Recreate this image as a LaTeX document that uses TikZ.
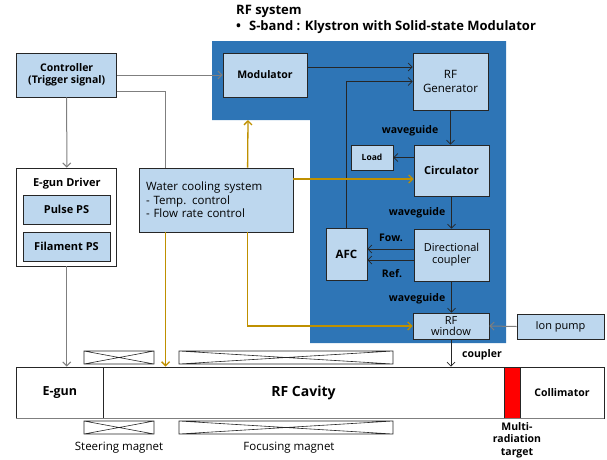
\documentclass[tikz,border=0pt]{standalone}
\usepackage{fontspec}
\setmainfont{Open Sans}
\usetikzlibrary{arrows.meta,calc}
\definecolor{rfblue}{HTML}{2E75B6}
\definecolor{lblue}{HTML}{BDD7EE}
\definecolor{gold}{HTML}{BF9000}
\definecolor{gline}{HTML}{7F7F7F}
\definecolor{dk}{HTML}{262626}
\newcommand\magnetbox[4]{\draw[mag] (#1,#2) rectangle (#3,#4) (#1,#2) -- (#3,#4) (#1,#4) -- (#3,#2);}
\begin{document}
\begin{tikzpicture}[x=1pt,y=-1pt,
 box/.style={draw=dk, line width=0.8pt, fill=lblue, inner sep=1pt, align=center, font=\fontsize{11}{12}\selectfont},
 bbox/.style={box, font=\fontsize{10.5}{12.5}\selectfont\bfseries},
 arr/.style={-{Straight Barb[length=4pt,width=8pt]}},
 dline/.style={draw=dk, line width=0.7pt, arr},
 grayline/.style={draw=gline, line width=1pt},
 goldline/.style={draw=gold, line width=1.3pt},
 lbl/.style={font=\fontsize{10.5}{12}\selectfont\bfseries, inner sep=0pt},
 rlbl/.style={font=\fontsize{11.5}{13}\selectfont, inner sep=0pt},
 mag/.style={draw=dk, line width=0.6pt},
 beam/.style={draw=dk, line width=0.8pt, minimum height=51, inner sep=0pt, font=\fontsize{10.5}{12}\selectfont\bfseries}
]
\useasboundingbox (0,0) rectangle (607,459);
% title
\node[anchor=west, inner sep=0pt, font=\fontsize{13}{15}\selectfont\bfseries] (t1) at (236,11) {RF system};
\node[anchor=west, inner sep=0pt, font=\fontsize{13}{15}\selectfont\bfseries] (t2) at (236,27) {\textbullet\hspace{8pt}S-band : Klystron with Solid-state Modulator};
% blue region
\fill[rfblue] (212,41) -- (506,41) -- (506,343) -- (310,343) -- (310,120) -- (212,120) -- cycle;
% boxes
\node[bbox, minimum width=100, minimum height=44] (ctrl) at (66.7,75) {Controller\\(Trigger signal)};
\node[bbox, minimum width=84, minimum height=44] (mod) at (265,75) {Modulator};
\node[box, minimum width=75, minimum height=57, font=\fontsize{11.5}{13.5}\selectfont] (rfg) at (450.5,81.5) {RF\\Generator};
\node[bbox, minimum width=42, minimum height=25, font=\fontsize{8.5}{10}\selectfont\bfseries] (load) at (372,157.5) {Load};
\node[box, minimum width=75, minimum height=51, font=\fontsize{11}{13}\selectfont\bfseries] (circ) at (451.5,170.5) {Circulator};
\node[box, minimum width=75, minimum height=52] (dc) at (451.5,255) {Directional\\coupler};
\node[bbox, minimum width=41, minimum height=52, font=\fontsize{11.5}{13}\selectfont\bfseries] (afc) at (346.5,254) {AFC};
\node[box, minimum width=76, minimum height=26, font=\fontsize{11}{10.5}\selectfont] (rfw) at (451,326) {RF\\window};
\node[box, minimum width=87, minimum height=25] (ion) at (560.5,326.5) {Ion pump};
\node[draw=dk, line width=0.8pt, fill=white, minimum width=100, minimum height=98] (egd) at (66.8,217) {};
\node[lbl, font=\fontsize{11}{12}\selectfont\bfseries] (egdt) at (66.8,184) {E-gun Driver};
\node[bbox, minimum width=87, minimum height=29, font=\fontsize{11}{12}\selectfont\bfseries] (pulse) at (66.5,209.5) {Pulse PS};
\node[bbox, minimum width=87, minimum height=29, font=\fontsize{11}{12}\selectfont\bfseries] (fil) at (66.5,246.5) {Filament PS};
\node[box, minimum width=154, minimum height=64, align=left, text width=140, font=\fontsize{11.5}{13.5}\selectfont] (wc) at (216,200) {Water cooling system\\- Temp. control\\- Flow rate control};
% beamline
\node[beam, minimum width=86.3, font=\fontsize{12.5}{14}\selectfont\bfseries] (egun) at (59.85,392.5) {E-gun};
\node[beam, minimum width=401, font=\fontsize{14}{16}\selectfont\bfseries] (cav) at (303.5,392.5) {RF Cavity};
\node[beam, minimum width=16, fill=red] (target) at (512,392.5) {};
\node[beam, minimum width=84] (coll) at (562,392.5) {Collimator};
\draw[gline, line width=1.6pt] (egun.south west) -- (coll.south east);
% magnets
\magnetbox{84}{351}{154}{364}
\magnetbox{179}{351}{393}{364}
\magnetbox{84}{421}{154}{434}
\magnetbox{179}{421}{393}{434}
\node[rlbl] (sm) at (119,448) {Steering magnet};
\node[rlbl] (fm) at (289,448) {Focusing magnet};
\node[lbl, align=center, font=\fontsize{10.5}{12.5}\selectfont\bfseries] (mrt) at (517,440) {Multi-\\radiation\\target};
% labels
\node[lbl] (wg1) at (410,131) {waveguide};
\node[lbl] (wg2) at (417,213) {waveguide};
\node[lbl] (wg3) at (417,299) {waveguide};
\node[lbl] (fow) at (391,238) {Fow.};
\node[lbl] (ref) at (392,274) {Ref.};
\node[lbl] (cpl) at (482,355) {coupler};
% gray connectors
\draw[grayline, arr] (ctrl.east) -- (mod.west);
\draw[grayline, arr] (ctrl.south) -- (egd.north);
\path (wc.north west) ++(27,0) coordinate (wcin);
\draw[grayline] ([yshift=-16pt]ctrl.east) -| (wcin);
\draw[grayline, arr] (egd.south) -- (egd.south |- egun.north);
\draw[grayline, arr] (ion.west) -- (rfw.east);
% dark connectors
\draw[dline] ([yshift=8pt]mod.east) -- ([yshift=8pt]mod.east -| rfg.west);
\draw[dline] (afc.north) |- (rfg.west);
\draw[dline] (rfg.south) -- (rfg.south |- circ.north);
\draw[dline] (circ.west |- load.east) -- (load.east);
\draw[dline] (circ.south) -- (dc.north);
\draw[dline] ([yshift=6pt]dc.west) -- ([yshift=6pt]dc.west -| afc.east);
\draw[dline] ([yshift=-5pt]dc.west) -- ([yshift=-5pt]dc.west -| afc.east);
\draw[dline] (dc.south) -- (dc.south |- rfw.north);
\draw[dline] (rfw.south) -- (rfw.south |- cav.north);
% gold connectors
\path (wc.north west) ++(109,0) coordinate (wcup);
\coordinate (notch) at (248,120);
\draw[goldline, arr] (wcup) -- (notch);
\draw[goldline, arr] ([yshift=21pt]wc.east) -- ([yshift=21pt]wc.east -| circ.west);
\path (wc.south west) ++(109,0) coordinate (wcdn);
\draw[goldline, arr] (wcdn) |- (rfw.west);
\path (wc.south west) ++(27,0) coordinate (wcdn2);
\draw[goldline, arr] (wcdn2) -- (wcdn2 |- cav.north);
\end{tikzpicture}
\end{document}
